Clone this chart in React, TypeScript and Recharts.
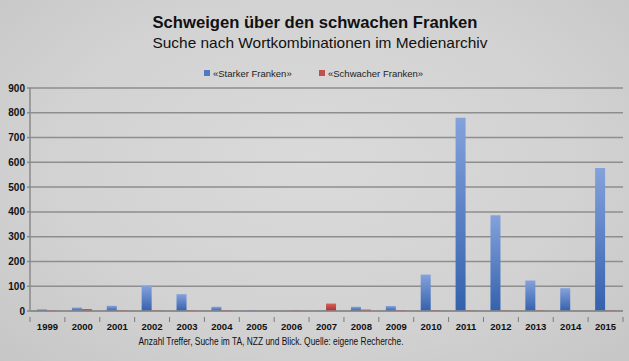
import React from "react";
import { BarChart, Bar, XAxis, YAxis, CartesianGrid } from "recharts";

const years = [
  "1999", "2000", "2001", "2002", "2003", "2004", "2005", "2006", "2007",
  "2008", "2009", "2010", "2011", "2012", "2013", "2014", "2015",
];
const starker = [7, 14, 21, 102, 68, 17, 3, 0, 3, 17, 20, 147, 780, 386, 123, 92, 577];
const schwacher = [3, 8, 3, 3, 3, 3, 0, 3, 30, 6, 3, 3, 3, 3, 3, 0, 3];
const yTicks = [0, 100, 200, 300, 400, 500, 600, 700, 800, 900];

const title = "Schweigen über den schwachen Franken";
const subtitle = "Suche nach Wortkombinationen im Medienarchiv";
const caption = "Anzahl Treffer, Suche im TA, NZZ und Blick. Quelle: eigene Recherche.";
const seriesNames = ["«Starker Franken»", "«Schwacher Franken»"];

const data = years.map((year, i) => ({
  year,
  starker: starker[i],
  schwacher: schwacher[i],
}));

const W = 629;
const H = 361;
const PLOT_LEFT = 30;
const PLOT_RIGHT = 623;
const BAND = (PLOT_RIGHT - PLOT_LEFT) / years.length;
const FONT = "'Liberation Sans', Arial, sans-serif";
const NARROW = "'Liberation Sans Narrow', 'Liberation Sans', Arial, sans-serif";

// excel-style: tick marks sit between the categories, not under them
function YearTick(props: any) {
  const { x, y, payload, index } = props;
  const left = x - BAND / 2;
  return (
    <g>
      <line x1={left} x2={left} y1={y - 2} y2={y + 3} stroke="#7a7a7a" />
      {index === years.length - 1 && (
        <line x1={x + BAND / 2} x2={x + BAND / 2} y1={y - 2} y2={y + 3} stroke="#7a7a7a" />
      )}
      <text
        x={x}
        y={y + 11}
        textAnchor="middle"
        fontFamily={NARROW}
        fontWeight="bold"
        fontSize={9.5}
        fill="#111"
      >
        {payload.value}
      </text>
    </g>
  );
}

export default function App() {
  const legendItems = [
    { label: seriesNames[0], color: "#4f79c4", x: 204 },
    { label: seriesNames[1], color: "#c0504d", x: 319 },
  ];
  return (
    <div
      style={{
        position: "relative",
        width: W,
        height: H,
        background: "radial-gradient(ellipse at 50% 45%, #dadada 0%, #d2d2d2 60%, #c6c6c6 100%)",
        overflow: "hidden",
      }}
    >
      <style>{"body{margin:0}"}</style>
      <svg width={W} height={82} style={{ position: "absolute", left: 0, top: 0 }}>
        <text
          x={315}
          y={28}
          textAnchor="middle"
          fontFamily={FONT}
          fontWeight="bold"
          fontSize={17}
          textLength={325}
          lengthAdjust="spacingAndGlyphs"
          fill="#111"
        >
          {title}
        </text>
        <text
          x={320}
          y={48}
          textAnchor="middle"
          fontFamily={FONT}
          fontSize={15}
          textLength={335}
          lengthAdjust="spacingAndGlyphs"
          fill="#111"
        >
          {subtitle}
        </text>
        {legendItems.map((it) => (
          <g key={it.label}>
            <rect x={it.x} y={70} width={6} height={6} fill={it.color} />
            <text x={it.x + 9} y={76.5} fontFamily={NARROW} fontSize={9.5} fill="#222">
              {it.label}
            </text>
          </g>
        ))}
      </svg>
      <BarChart
        width={W}
        height={H}
        data={data}
        barSize={10}
        barGap={0}
        margin={{ top: 88, right: W - PLOT_RIGHT, bottom: 20, left: 8 }}
        style={{ position: "absolute", left: 0, top: 0 }}
      >
        <defs>
          <linearGradient id="blueFill" x1="0" y1="0" x2="0" y2="1">
            <stop offset="0%" stopColor="#84a2dc" />
            <stop offset="100%" stopColor="#3461ad" />
          </linearGradient>
          <linearGradient id="redFill" x1="0" y1="0" x2="0" y2="1">
            <stop offset="0%" stopColor="#d5605c" />
            <stop offset="100%" stopColor="#a8302e" />
          </linearGradient>
        </defs>
        <CartesianGrid vertical={false} stroke="#8e8e8e" strokeWidth={1.5} />
        <XAxis
          dataKey="year"
          stroke="#8a8a8a"
          strokeWidth={1.5}
          tickLine={false}
          tick={<YearTick />}
          interval={0}
          height={30}
        />
        <YAxis
          width={22}
          domain={[0, 900]}
          ticks={yTicks}
          interval={0}
          stroke="#8a8a8a"
          strokeWidth={1.5}
          tickSize={3}
          tick={{ fontSize: 10, fontWeight: "bold", fontFamily: FONT, fill: "#111" }}
        />
        <Bar dataKey="starker" name={seriesNames[0]} fill="url(#blueFill)" isAnimationActive={false} />
        <Bar dataKey="schwacher" name={seriesNames[1]} fill="url(#redFill)" isAnimationActive={false} />
      </BarChart>
      <svg width={W} height={20} style={{ position: "absolute", left: 0, top: 333 }}>
        <text
          x={271}
          y={12}
          textAnchor="middle"
          fontFamily={FONT}
          fontSize={10}
          textLength={265}
          lengthAdjust="spacingAndGlyphs"
          fill="#111"
        >
          {caption}
        </text>
      </svg>
    </div>
  );
}
